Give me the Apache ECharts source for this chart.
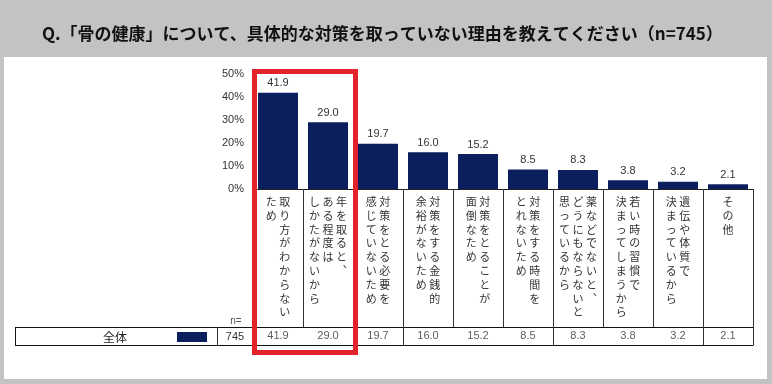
<!DOCTYPE html>
<html><head><meta charset="utf-8">
<script src="https://cdn.jsdelivr.net/npm/echarts@6/dist/echarts.min.js"></script>
<style>html,body{margin:0;padding:0;background:#c3c3c3;}#c{width:772px;height:384px;}</style>
</head><body><div id="c"></div>
<script>
const titleText = 'Q.「骨の健康」について、具体的な対策を取っていない理由を教えてください（n=745）';
const categories = [
  '取り方がわからない\nため',
  '年を取ると、\nある程度は\nしかたがないから',
  '対策をとる必要を\n感じていないため',
  '対策をする金銭的\n余裕がないため',
  '対策をとることが\n面倒なため',
  '対策をする時間を\nとれないため',
  '薬などでないと、\nどうにもならないと\n思っているから',
  '若い時の習慣で\n決まってしまうから',
  '遺伝や体質で\n決まっているから',
  'その他'
];
const seriesName = '全体';
const values = [41.9, 29.0, 19.7, 16.0, 15.2, 8.5, 8.3, 3.8, 3.2, 2.1];
const sampleSize = 745;
const yMin = 0, yMax = 50, yInterval = 10;
const highlighted = [0, 1];

const CJK = '"Noto Sans CJK JP", "Noto Sans", sans-serif';
const LAT = '"Liberation Sans", Arial, sans-serif';
const NAVY = '#0b1f5e';

function toVertical(label) {
  const cols = label.split('\n').map(s => Array.from(s.replace(/、/g, '︑')));
  const L = Math.max(...cols.map(c => c.length));
  const lines = [];
  for (let i = 0; i < L; i++) {
    const row = [];
    for (let j = cols.length - 1; j >= 0; j--) row.push(cols[j][i] || '　');
    lines.push(row.join(' '));
  }
  return lines.join('\n');
}

const chart = echarts.init(document.getElementById('c'));
const gridLeft = 253, gridRight = 19;
const baseGraphic = [
  { id: 'panel', type: 'rect', z: -10, shape: { x: 4, y: 57, width: 763, height: 322 }, style: { fill: '#fff' } },
  { id: 'l1', type: 'line', shape: { x1: 15, y1: 327.5, x2: gridLeft, y2: 327.5 }, style: { stroke: '#111', lineWidth: 1 } },
  { id: 'l2', type: 'line', shape: { x1: 15, y1: 345.5, x2: gridLeft, y2: 345.5 }, style: { stroke: '#111', lineWidth: 1 } },
  { id: 'l3', type: 'line', shape: { x1: 15.5, y1: 327, x2: 15.5, y2: 346 }, style: { stroke: '#111', lineWidth: 1 } },
  { id: 'l4', type: 'line', shape: { x1: 217.5, y1: 327, x2: 217.5, y2: 346 }, style: { stroke: '#333', lineWidth: 1 } },
  { id: 't1', type: 'text', style: { text: seriesName, x: 115, y: 337, align: 'center', verticalAlign: 'middle', font: '12px ' + CJK, fill: '#222' } },
  { id: 't2', type: 'text', style: { text: String(sampleSize), x: 235, y: 337, align: 'center', verticalAlign: 'middle', font: '11px ' + LAT, fill: '#333' } },
  { id: 't3', type: 'text', style: { text: 'n=', x: 236, y: 321, align: 'center', verticalAlign: 'middle', font: '10px ' + LAT, fill: '#555' } }
];
chart.setOption({
  backgroundColor: '#c3c3c3',
  animation: false,
  title: {
    text: titleText, left: 37, top: 20,
    textStyle: { fontFamily: CJK, fontSize: 17, fontWeight: 'bold', color: '#111' }
  },
  legend: {
    data: [seriesName], left: 177, top: 332, itemWidth: 30, itemHeight: 10,
    icon: 'rect', formatter: () => '', selectedMode: false, padding: 0
  },
  grid: [
    { left: gridLeft, right: gridRight, top: 74, bottom: 384 - 189 },
    { left: gridLeft, right: gridRight, top: 327, height: 18 }
  ],
  xAxis: [
    {
      type: 'category', data: categories, gridIndex: 0,
      axisLine: { show: true, lineStyle: { color: '#222', width: 1 } },
      axisTick: { show: true, length: 138, lineStyle: { color: '#333' } },
      axisLabel: {
        interval: 0, margin: 6, fontFamily: CJK, fontSize: 11, lineHeight: 13.8,
        color: '#333', verticalAlign: 'top', align: 'center',
        formatter: v => toVertical(v)
      }
    },
    {
      type: 'category', data: categories, gridIndex: 1, position: 'bottom',
      axisLine: { show: true, lineStyle: { color: '#111' } },
      axisTick: { show: true, inside: true, length: 18, lineStyle: { color: '#333' } },
      axisLabel: { show: false }
    },
    {
      type: 'category', data: categories, gridIndex: 1, position: 'top',
      axisLine: { show: true, lineStyle: { color: '#111' } },
      axisTick: { show: false }, axisLabel: { show: false }
    }
  ],
  yAxis: [
    {
      type: 'value', gridIndex: 0, min: yMin, max: yMax, interval: yInterval,
      axisLine: { show: false }, axisTick: { show: false }, splitLine: { show: false },
      axisLabel: { formatter: '{value}%', fontFamily: LAT, fontSize: 11, color: '#333', margin: 9 }
    },
    { type: 'value', gridIndex: 1, min: 0, max: 1, show: false }
  ],
  series: [
    {
      name: seriesName, type: 'bar', data: values, barWidth: 40,
      itemStyle: { color: NAVY },
      label: {
        show: true, position: 'top', distance: 4, fontFamily: LAT, fontSize: 11, color: '#333',
        formatter: p => p.value.toFixed(1)
      }
    },
    {
      name: 'table', type: 'scatter', xAxisIndex: 1, yAxisIndex: 1, symbolSize: 0,
      data: values.map((v, i) => [i, 0.5, v]),
      label: {
        show: true, position: 'inside', fontFamily: LAT, fontSize: 11, color: '#333',
        formatter: p => p.value[2].toFixed(1)
      }
    }
  ],
  graphic: baseGraphic
});

// highlight frame around the selected categories, positioned from the axis scale
const c0 = chart.convertToPixel({ xAxisIndex: 0 }, highlighted[0]);
const c1 = chart.convertToPixel({ xAxisIndex: 0 }, highlighted[highlighted.length - 1]);
const band = (c1 - c0) / Math.max(1, highlighted.length - 1) || 50;
const x0 = c0 - band / 2 + 1.5, x1 = c1 + band / 2 + 2.5;
chart.setOption({
  graphic: baseGraphic.concat([
    { id: 'frame', type: 'rect', z: 100, shape: { x: x0, y: 71.5, width: x1 - x0, height: 281 }, style: { fill: 'none', stroke: '#e3232b', lineWidth: 5 } }
  ])
});
</script></body></html>
